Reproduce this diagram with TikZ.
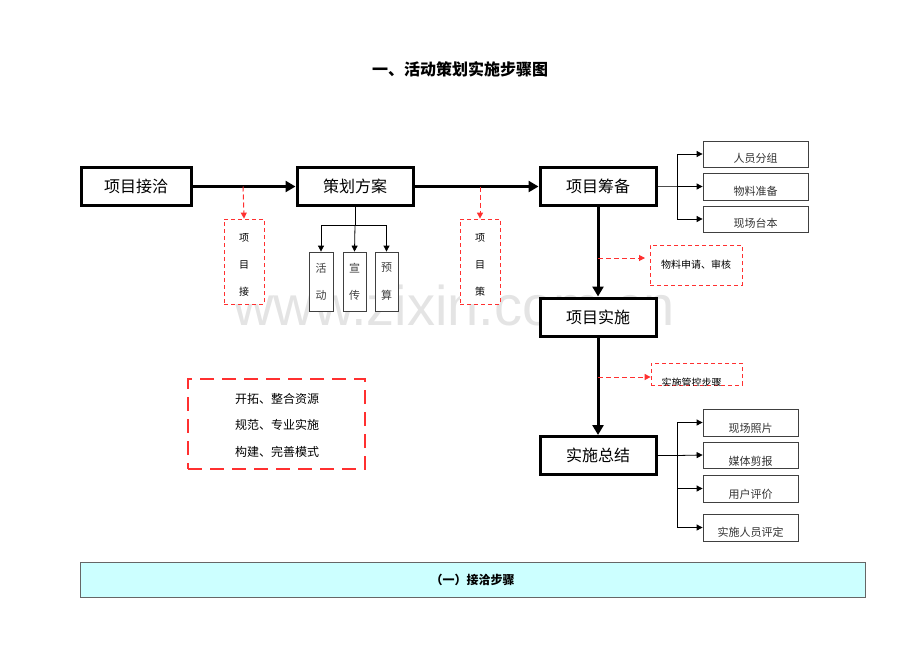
\documentclass[tikz,border=0pt]{standalone}
\usepackage{fontspec}
\setmainfont{Noto Sans CJK SC}
\newfontfamily\wmfont{Liberation Sans}
\usetikzlibrary{arrows.meta}
\definecolor{wmgray}{HTML}{E4E4E4}
\definecolor{dashred}{HTML}{FF3030}
\definecolor{cyanfill}{HTML}{CCFFFF}
\tikzset{
  x=1pt,y=-1pt,
  mainbox/.style={draw=black,line width=3pt,fill=white,minimum width=112pt,minimum height=38pt,inner sep=0pt,font=\fontsize{16}{16}\selectfont},
  subbox/.style={draw=black!75,line width=0.8pt,fill=white,inner sep=0pt,text=black!80,font=\fontsize{11}{11}\selectfont},
  redbox/.style={draw=dashred,line width=0.8pt,dash pattern=on 4pt off 3pt,fill=white,inner sep=0pt,font=\fontsize{10}{10}\selectfont},
  thickarrow/.style={line width=3pt,-{Triangle[length=10pt,width=11pt]}},
  thinarrow/.style={line width=0.8pt,-{Triangle[length=6pt,width=6pt]}},
  redarrow/.style={draw=dashred,line width=1pt,dash pattern=on 5pt off 3pt,-{Triangle[length=6pt,width=6pt]}},
}
\begin{document}
\begin{tikzpicture}
\useasboundingbox (0,0) rectangle (920,651);
% watermark
\node[anchor=base west,inner sep=0pt,text=wmgray,font=\wmfont\fontsize{56}{56}\selectfont] (wm) at (233,325) {www.zixin.com.cn};
% title
\node[font=\fontsize{16}{16}\selectfont\bfseries] (title) at (460,69) {一、活动策划实施步骤图};
% main boxes
\node[mainbox,minimum width=110pt] (jq) at (136,186.5) {项目接洽};
\node[mainbox,minimum width=116pt] (ch) at (355,186.5) {策划方案};
\node[mainbox,minimum width=116pt] (cb) at (598,186.5) {项目筹备};
\node[mainbox,minimum width=116pt] (ss) at (598,317) {项目实施};
\node[mainbox,minimum width=116pt] (zj) at (598,455.5) {实施总结};
\draw[thickarrow] (jq.east) -- (ch.west);
\draw[thickarrow] (ch.east) -- (cb.west);
\draw[thickarrow] (cb.south) -- (ss.north);
\draw[thickarrow] (ss.south) -- (zj.north);
% red dashed boxes (vertical text)
\node[redbox,minimum width=40pt,minimum height=85pt] (r1) at (244,261.5) {};
\node[font=\fontsize{10}{10}\selectfont] (r1a) at (244,238) {项};
\node[font=\fontsize{10}{10}\selectfont] (r1b) at (244,265) {目};
\node[font=\fontsize{10}{10}\selectfont] (r1c) at (244,292) {接};
\node[redbox,minimum width=40pt,minimum height=85pt] (r2) at (480,261.5) {};
\node[font=\fontsize{10}{10}\selectfont] (r2a) at (480,238) {项};
\node[font=\fontsize{10}{10}\selectfont] (r2b) at (480,265) {目};
\node[font=\fontsize{10}{10}\selectfont] (r2c) at (480,292) {策};
\coordinate (c1) at (243,186.5);
\coordinate (c2) at (480,186.5);
\draw[redarrow] (c1) -- (r1.north);
\draw[redarrow] (c2) -- (r2.north);
% children of 策划方案
\node[subbox,minimum width=24pt,minimum height=59pt] (hd) at (321,281.5) {};
\node[subbox,minimum width=23pt,minimum height=59pt] (xc) at (354.5,281.5) {};
\node[subbox,minimum width=23pt,minimum height=59pt] (ys) at (386.5,281.5) {};
\node[text=black!75,font=\fontsize{11}{11}\selectfont] (hd1) at (321,268) {活};
\node[text=black!75,font=\fontsize{11}{11}\selectfont] (hd2) at (321,295) {动};
\node[text=black!75,font=\fontsize{11}{11}\selectfont] (xc1) at (354.5,268) {宣};
\node[text=black!75,font=\fontsize{11}{11}\selectfont] (xc2) at (354.5,295) {传};
\node[text=black!75,font=\fontsize{11}{11}\selectfont] (ys1) at (386.5,268) {预};
\node[text=black!75,font=\fontsize{11}{11}\selectfont] (ys2) at (386.5,295) {算};
\coordinate (chb) at (355,225);
\draw[line width=0.8pt] (ch.south -| chb) -- (chb);
\draw[thinarrow] (chb) -| (hd.north);
\draw[thinarrow] (chb) -- (xc.north);
\draw[thinarrow] (chb) -| (ys.north);
% children of 项目筹备
\node[subbox,minimum width=105pt,minimum height=26pt] (ry) at (755.5,154) {};
\node[subbox,minimum width=105pt,minimum height=27pt] (wl) at (755.5,186.5) {};
\node[subbox,minimum width=105pt,minimum height=26pt] (xt) at (755.5,219) {};
\node[text=black!80,font=\fontsize{11}{11}\selectfont] (ryt) at (755.5,158) {人员分组};
\node[text=black!80,font=\fontsize{11}{11}\selectfont] (wlt) at (755.5,191) {物料准备};
\node[text=black!80,font=\fontsize{11}{11}\selectfont] (xtt) at (755.5,223.5) {现场台本};
\coordinate (cbj) at (677,186.5);
\draw[line width=0.6pt,black!70] (cb.east) -- (cbj);
\draw[thinarrow] (cbj) |- (ry.west);
\draw[thinarrow] (cbj) -- (wl.west);
\draw[thinarrow] (cbj) |- (xt.west);
% 物料申请
\node[redbox,minimum width=92pt,minimum height=40pt] (sq) at (696,265) {物料申请、审核};
\coordinate (c3) at (598,258);
\draw[redarrow] (c3) -- (645,258) coordinate (c3e);
% 实施管控步骤 (clipped)
\node[redbox,minimum width=91pt,minimum height=22pt] (gk) at (696.5,374) {};
\begin{scope}
\clip (651,363) rectangle (742,385);
\node[anchor=west,font=\fontsize{10}{10}\selectfont] (gkt) at (658,383) {实施管控步骤};
\end{scope}
\coordinate (c4) at (598,377);
\draw[redarrow] (c4) -- (c4 -| gk.west);
% children of 实施总结
\node[subbox,minimum width=95pt,minimum height=27pt] (zp) at (750.5,422.5) {};
\node[subbox,minimum width=95pt,minimum height=26pt] (mt) at (750.5,455) {};
\node[subbox,minimum width=95pt,minimum height=27pt] (yh) at (750.5,488.5) {};
\node[subbox,minimum width=95pt,minimum height=27pt] (rp) at (750.5,527.5) {};
\node[text=black!80,font=\fontsize{11}{11}\selectfont] (zpt) at (750.5,428) {现场照片};
\node[text=black!80,font=\fontsize{11}{11}\selectfont] (mtt) at (750.5,461) {媒体剪报};
\node[text=black!80,font=\fontsize{11}{11}\selectfont] (yht) at (750.5,494) {用户评价};
\node[text=black!80,font=\fontsize{11}{11}\selectfont] (rpt) at (750.5,532) {实施人员评定};
\coordinate (zjj) at (677,455.5);
\draw[line width=0.6pt] (zj.east) -- (zjj);
\draw[thinarrow] (zjj) |- (zp.west);
\draw[thinarrow] (zjj) -- (mt.west);
\draw[thinarrow] (zjj) |- (yh.west);
\draw[thinarrow] (zjj) |- (rp.west);
% big red dashed box
\node[draw=dashred,line width=2.6pt,dash pattern=on 14pt off 8pt,minimum width=177pt,minimum height=90pt,inner sep=0pt] (big) at (276.5,424) {};
\node[font=\fontsize{12}{12}\selectfont] (b1) at (277,399) {开拓、整合资源};
\node[font=\fontsize{12}{12}\selectfont] (b2) at (277,425) {规范、专业实施};
\node[font=\fontsize{12}{12}\selectfont] (b3) at (277,452) {构建、完善模式};
% bottom banner
\node[draw=black!60,line width=0.8pt,fill=cyanfill,minimum width=785pt,minimum height=35pt,inner sep=0pt,font=\fontsize{12}{12}\selectfont\bfseries] (banner) at (472.5,579.5) {（一）接洽步骤};
\end{tikzpicture}
\end{document}
